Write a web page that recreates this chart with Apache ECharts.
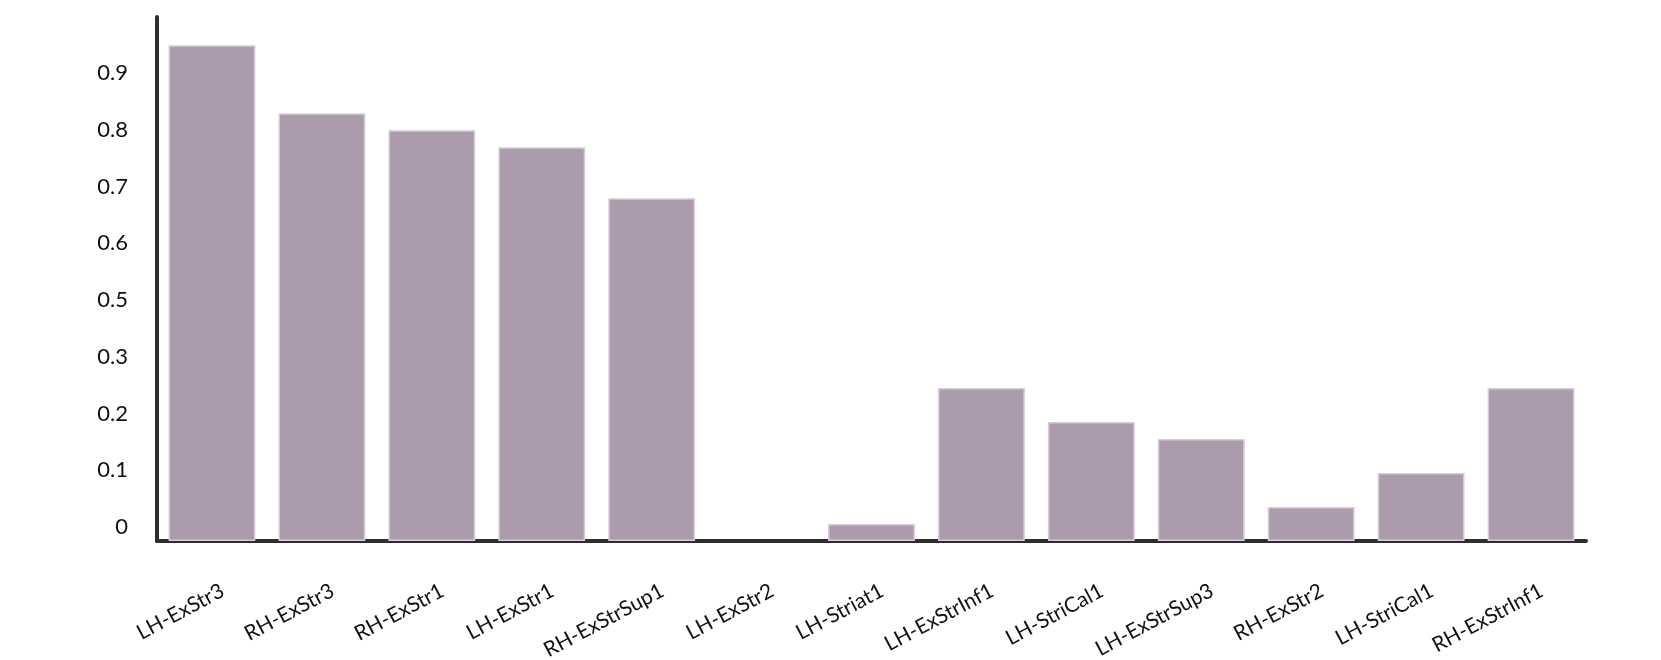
<!DOCTYPE html>
<html>
<head>
<meta charset="utf-8">
<script src="https://cdn.jsdelivr.net/npm/echarts@6/dist/echarts.min.js"></script>
<style>
  html, body { margin: 0; padding: 0; background: #fff; }
  #chart { width: 1661px; height: 660px; }
</style>
</head>
<body>
<div id="chart"></div>
<script>
// regions along the x axis
const regions = ['LH-ExStr3', 'RH-ExStr3', 'RH-ExStr1', 'LH-ExStr1', 'RH-ExStrSup1', 'LH-ExStr2',
    'LH-Striat1', 'LH-ExStrInf1', 'LH-StriCal1', 'LH-ExStrSup3', 'RH-ExStr2', 'LH-StriCal1', 'RH-ExStrInf1'];
// bar heights, measured from the baseline (one label step = 0.1); LH-ExStr2 has no bar
const values = [0.875, 0.755, 0.725, 0.695, 0.605, null, 0.03, 0.27, 0.21, 0.18, 0.06, 0.12, 0.27];
// tick labels as printed on the y axis (bottom to top)
const yTickLabels = ['0', '0.1', '0.2', '0.3', '0.5', '0.6', '0.7', '0.8', '0.9'];

const font = 'Lato, "Open Sans", sans-serif';
const chart = echarts.init(document.getElementById('chart'));
const option = {
    animation: false,
    backgroundColor: '#fff',
    grid: [
        { left: 157, right: 75, top: 17, bottom: 119, outerBoundsMode: 'none' },
        // grid only used to place the printed tick labels
        { left: 157, right: 75, top: 73, bottom: 133, outerBoundsMode: 'none' }
    ],
    xAxis: [
        {
            type: 'category',
            gridIndex: 0,
            data: regions,
            axisLine: { lineStyle: { color: '#2e2e2e', width: 4 } },
            axisTick: { show: false },
            axisLabel: {
                interval: 0,
                rotate: 28,
                margin: 54,
                fontSize: 21,
                fontFamily: font,
                color: '#111',
                padding: [0, -12, 0, 0]
            }
        },
        { type: 'value', gridIndex: 1, show: false }
    ],
    yAxis: [
        {
            type: 'value',
            gridIndex: 0,
            min: 0,
            max: 0.925,
            axisLine: { show: true, lineStyle: { color: '#2e2e2e', width: 4 } },
            axisTick: { show: false },
            axisLabel: { show: false },
            splitLine: { show: false }
        },
        {
            type: 'category',
            gridIndex: 1,
            data: yTickLabels,
            boundaryGap: false,
            axisLine: { show: false },
            axisTick: { show: false },
            splitLine: { show: false },
            axisLabel: {
                interval: 0,
                margin: 29,
                fontSize: 22,
                fontFamily: font,
                color: '#111'
            }
        }
    ],
    series: [
        {
            type: 'bar',
            xAxisIndex: 0,
            yAxisIndex: 0,
            data: values,
            barCategoryGap: '21%',
            itemStyle: {
                color: '#ac9bad',
                borderColor: '#d6cbd6',
                borderWidth: 1.5
            }
        }
    ]
};
chart.setOption(option);
</script>
</body>
</html>
